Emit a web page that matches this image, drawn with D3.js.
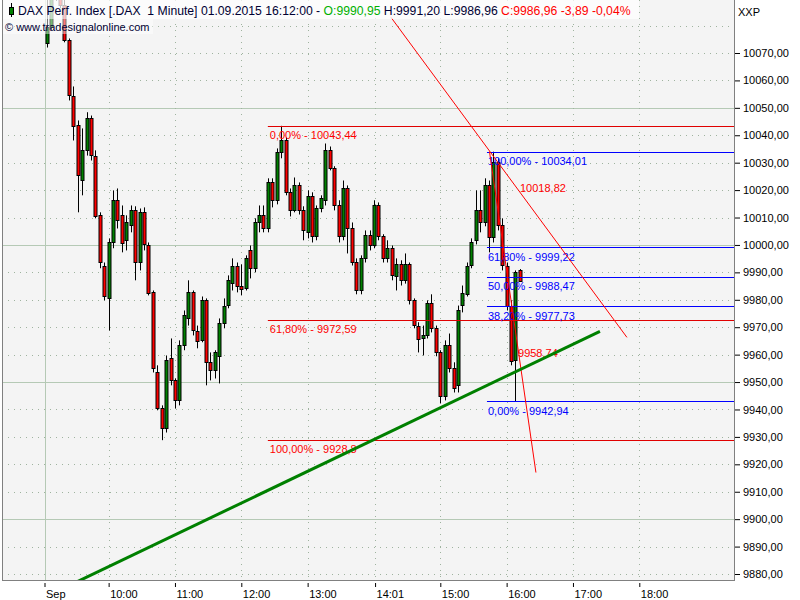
<!DOCTYPE html>
<html><head><meta charset="utf-8">
<script src="https://cdn.jsdelivr.net/npm/d3@7"></script>
<style>body{margin:0;background:#fff}svg{display:block}</style>
</head><body><svg id="c" width="800" height="600"></svg>
<script>
// ---- data (4-minute bars from 09:04) ----
const startMinute = 544, barMinutes = 4;
const open = [10073.5,10079.3,10091.0,10094.0,10087.4,10074.6,10054.5,10043.6,10023.5,10034.5,
10046.2,10032.6,10010.8,9992.5,9980.5,10000.9,10016.3,10010.8,10001.7,10007.1,
10012.6,9993.6,10011.9,10000.1,9982.7,9953.5,9940.4,9933.1,9958.6,9950.6,
9943.3,9963.4,9973.2,9982.7,9968.8,9965.2,9979.8,9957.2,9954.3,9959.7,
9971.7,9977.9,9986.4,9992.5,9985.2,9984.2,9998.0,9991.5,10008.2,10010.8,
10006.0,10022.8,10016.3,10033.8,10038.1,10019.2,10012.6,10021.7,10012.6,10004.6,
10017.7,10003.1,10013.3,10016.3,10034.5,10027.9,10014.4,10003.1,10020.6,10006.0,
9993.6,9983.4,9995.1,10003.5,9999.8,10014.4,10003.1,9995.1,9998.8,9988.5,
9992.9,9987.1,9992.9,9979.8,9970.6,9965.9,9967.0,9978.7,9969.6,9960.8,
9944.8,9963.4,9955.0,9948.8,9977.9,9982.3,9992.5,10001.7,10012.6,10008.2,
10021.7,10002.8,10030.1,10007.1,9992.5,9977.9,9957.9,9990.95];
const high = [10092,10094,10097,10096,10090,10075.3,10057.8,10045.4,10042.5,10048.4,
10047.2,10034.5,10011.9,9993.6,10002.4,10019.9,10020.6,10014.4,10010.8,10014.4,
10014.1,10013.3,10013.7,10000.9,9983.4,9956.1,9941.5,9959.7,9965.9,9951.3,
9965.2,9976.1,9987.1,9983.4,9970.6,9981.2,9980.5,9960.8,9961.6,9973.2,
9980.5,9988.9,9995.1,9993.6,9992.9,9996.2,9999.8,10009.7,10014.4,10014.4,
10024.3,10024.3,10035.2,10043.44,10039.2,10020.6,10024.6,10022.8,10014.1,10019.9,
10019.2,10014.4,10018.1,10037.0,10035.9,10028.7,10016.3,10023.5,10021.7,10008.2,
9995.1,9996.2,10005.3,10005.3,10016.3,10015.5,10003.9,10001.7,9999.8,9995.1,
9994.4,9996.9,9993.6,9980.5,9971.8,9970.6,9979.8,9982.0,9970.6,9961.6,
9965.2,9967.7,9957.2,9977.9,9985.2,9993.6,10002.4,10019.9,10019.9,10024.3,
10023.5,10034.01,10031.6,10009.7,9993.6,9979.8,9990.7,9991.20];
const low = [10072.0,10078.3,10089,10086.3,10073.9,10052.7,10038.1,10011.9,10018.1,10032.6,
10030.8,10009.7,9991.5,9979.8,9968.8,9998.8,10006.0,9997.3,9998.0,10004.6,
9987.1,9990.7,9998.0,9981.6,9953.5,9939.7,9928.8,9931.6,9948.8,9940.4,
9941.5,9961.6,9970.6,9967.0,9962.3,9964.5,9948.8,9950.6,9951.3,9949.5,
9969.6,9976.9,9983.4,9982.7,9981.6,9983.4,9987.8,9990.0,10004.6,10004.6,
10004.6,10013.7,10014.8,10031.6,10018.1,10010.4,10011.9,10011.1,10001.7,10002.4,
10000.9,10001.7,10011.9,10014.4,10027.2,10012.6,10000.9,10001.7,9996.9,9992.5,
9982.0,9982.0,9993.6,9998.0,9998.8,10001.7,9993.6,9993.6,9987.1,9983.4,
9985.2,9985.9,9978.3,9969.6,9960.8,9959.7,9965.9,9968.1,9959.4,9942.2,
9943.3,9953.5,9946.2,9946.2,9975.4,9981.2,9991.5,10000.2,10004.6,10006.8,
9997.3,10000.9,10005.3,9990.7,9976.1,9956.1,9942.94,9986.96];
const close = [10079.3,10091.0,10094.0,10087.4,10074.6,10054.5,10043.6,10025.4,10034.5,10046.2,
10032.6,10010.8,9993.6,9981.6,10000.9,10016.3,10008.9,10000.6,10008.2,10012.6,
9993.6,10011.9,10000.1,9982.7,9955.0,9940.4,9933.1,9957.9,9950.6,9943.3,
9963.4,9974.3,9982.7,9968.8,9965.2,9979.8,9957.2,9954.3,9960.8,9971.7,
9977.9,9987.1,9992.5,9985.2,9984.2,9995.1,9991.5,10008.2,10010.8,10006.0,
10022.8,10016.3,10033.8,10038.1,10019.2,10012.6,10021.7,10012.6,10005.3,10017.7,
10003.1,10013.3,10017.0,10034.5,10027.9,10014.4,10003.1,10020.6,10006.0,9993.6,
9983.4,9995.1,10003.5,9999.8,10014.4,10003.1,9995.1,9998.8,9988.9,9992.9,
9987.1,9992.9,9979.8,9970.6,9965.9,9967.0,9978.7,9969.6,9960.8,9944.8,
9963.4,9955.0,9947.7,9976.1,9982.3,9992.5,10000.9,10012.6,10008.2,10021.7,
10002.8,10030.1,10007.1,9992.5,9977.9,9957.9,9990.0,9986.96];

const yTicks = [9880,9890,9900,9910,9920,9930,9940,9950,9960,9970,9980,9990,10000,10010,10020,10030,10040,10050,10060,10070];
const gridLevels = [9870,9880,9890,9900,9910,9920,9930,9940,9950,9960,9970,9980,9990,10000,10010,10020,10030,10040,10050,10060,10070,10080];
const xTickMinutes = [542,600,660,720,780,841,900,960,1020,1080];
const xTickLabels = ["Sep","10:00","11:00","12:00","13:00","14:01","15:00","16:00","17:00","18:00"];

const fibLeftStart = 744;
const fibLeftLevels = [10043.44, 9972.59, 9928.8];
const fibLeftLabels = ["0,00% - 10043,44","61,80% - 9972,59","100,00% - 9928,8"];
const fibRightStart = 942.2;
const fibRightLevels = [10034.01, 9999.22, 9988.47, 9977.73, 9942.94];
const fibRightLabels = ["100,00% - 10034,01","61,80% - 9999,22","50,00% - 9988,47","38,20% - 9977,73","0,00% - 9942,94"];

const redLines = [[855.4,10083.0,1068.8,9966.3],[944.5,10034.0,986.5,9917.0]];
const redLineLabels = [{m:972.1,v:10018.82,t:"10018,82"},{m:970.3,v:9958.74,t:"9958,74"}];
const greenLine = [537.9,9870.7,1044.4,9968.5];

// ---- drawing ----
const W=800,H=600;
const plot={l:2,t:0,r:735,b:581};
const x=d3.scaleLinear().domain([540,1080]).range([42.3,639.3]);
const y=d3.scaleLinear().domain([9880,10070]).range([574,53]);
const svg=d3.select('#c');
const FONT='"Liberation Sans", Arial, sans-serif';

svg.append('rect').attr('width',W).attr('height',H).attr('fill','#fff');
svg.append('defs').append('clipPath').attr('id','clip').append('rect')
  .attr('x',plot.l).attr('y',plot.t).attr('width',plot.r-plot.l).attr('height',plot.b-plot.t);
svg.append('rect').attr('x',plot.l).attr('y',plot.t).attr('width',plot.r-plot.l).attr('height',plot.b-plot.t).attr('fill','#f4f4f4');

const g=svg.append('g').attr('clip-path','url(#clip)');
// horizontal grid
g.selectAll('.hg').data(gridLevels).join('line')
  .attr('x1',plot.l).attr('x2',plot.r)
  .attr('y1',d=>Math.round(y(d))+0.5).attr('y2',d=>Math.round(y(d))+0.5)
  .attr('stroke',d=>d%50===0?'#b5c9b5':'#9fb39f')
  .attr('stroke-dasharray',d=>d%50===0?null:'1,5')
  .attr('stroke-width',1);
// vertical grid
g.selectAll('.vg').data(xTickMinutes).join('line')
  .attr('y1',plot.t).attr('y2',plot.b)
  .attr('x1',d=>Math.round(x(d))+0.5).attr('x2',d=>Math.round(x(d))+0.5)
  .attr('stroke',(d,i)=>i===0?'#b5c9b5':'#9fb39f')
  .attr('stroke-dasharray',(d,i)=>i===0?null:'1,5');

// candles
const bars=open.map((o,i)=>({m:startMinute+i*barMinutes,o,h:high[i],l:low[i],c:close[i]}));
const cg=g.append('g');
bars.forEach(b=>{
  const cx=Math.round(x(b.m));
  cg.append('line').attr('x1',cx+0.5).attr('x2',cx+0.5).attr('y1',y(b.h)).attr('y2',y(b.l)).attr('stroke','#000').attr('stroke-width',1);
  const y1=Math.min(y(b.o),y(b.c)), y2=Math.max(y(b.o),y(b.c));
  cg.append('rect').attr('x',cx-1).attr('width',3).attr('y',Math.round(y1)+0.5).attr('height',Math.max(1,Math.round(y2-y1)))
    .attr('fill',b.c>=b.o?'#008000':'#ff0000').attr('stroke','#000').attr('stroke-width',1);
});

// fib left (red)
g.selectAll('.fl').data(fibLeftLevels).join('line')
  .attr('x1',x(fibLeftStart)).attr('x2',plot.r)
  .attr('y1',d=>Math.round(y(d))+0.5).attr('y2',d=>Math.round(y(d))+0.5)
  .attr('stroke','#e00000').attr('stroke-width',1);
g.selectAll('.flt').data(fibLeftLevels).join('text')
  .attr('x',x(fibLeftStart)+2).attr('y',d=>y(d)+13)
  .attr('font-family',FONT).attr('font-size',11).attr('fill','#ff0000')
  .text((d,i)=>fibLeftLabels[i]);
// fib right (blue)
g.selectAll('.fr').data(fibRightLevels).join('line')
  .attr('x1',x(fibRightStart)).attr('x2',plot.r)
  .attr('y1',d=>Math.round(y(d))+0.5).attr('y2',d=>Math.round(y(d))+0.5)
  .attr('stroke','#0000ff').attr('stroke-width',1);
g.selectAll('.frt').data(fibRightLevels).join('text')
  .attr('x',x(fibRightStart)+1).attr('y',d=>y(d)+13.5)
  .attr('font-family',FONT).attr('font-size',11).attr('fill','#0000ff')
  .text((d,i)=>fibRightLabels[i]);

// red lines
g.selectAll('.rl').data(redLines).join('line')
  .attr('x1',d=>x(d[0])).attr('y1',d=>y(d[1])).attr('x2',d=>x(d[2])).attr('y2',d=>y(d[3]))
  .attr('stroke','#ff0000').attr('stroke-width',1);
g.selectAll('.rlt').data(redLineLabels).join('text')
  .attr('x',d=>x(d.m)).attr('y',d=>y(d.v)-1)
  .attr('font-family',FONT).attr('font-size',11).attr('fill','#ff0000')
  .text(d=>d.t);
// green trend line
g.append('line').attr('x1',x(greenLine[0])).attr('y1',y(greenLine[1])).attr('x2',x(greenLine[2])).attr('y2',y(greenLine[3]))
  .attr('stroke','#008000').attr('stroke-width',3);

// frame
svg.append('rect').attr('x',plot.l+0.5).attr('y',plot.t-0.5).attr('width',plot.r-plot.l-1).attr('height',plot.b-plot.t)
  .attr('fill','none').attr('stroke','#808080');

// right axis
const ya=svg.append('g').attr('transform',`translate(${plot.r},0)`)
  .call(d3.axisRight(y).tickValues(yTicks).tickSize(5).tickPadding(3).tickFormat(d=>d.toFixed(2).replace('.',',')));
ya.select('.domain').remove();
ya.selectAll('text').attr('font-family',FONT).attr('font-size',11).attr('fill','#000');
ya.selectAll('line').attr('stroke','#000');
svg.append('text').attr('x',738).attr('y',16).attr('font-family',FONT).attr('font-size',11).attr('fill','#000').text('XXP');

// bottom axis
const xa=svg.append('g').attr('transform',`translate(0,${plot.b+2})`)
  .call(d3.axisBottom(x).tickValues(xTickMinutes).tickSize(4).tickPadding(3).tickFormat((d,i)=>xTickLabels[i]));
xa.select('.domain').remove();
xa.selectAll('text').attr('font-family',FONT).attr('font-size',11).attr('fill','#000').attr('text-anchor','start').attr('dx',1);
xa.selectAll('line').attr('stroke','#000');

// header
const hd=svg.append('g');
hd.append('rect').attr('x',plot.l+1).attr('y',0).attr('width',636).attr('height',19).attr('fill','#fff').attr('opacity',0.75);
hd.append('rect').attr('x',plot.l+1).attr('y',19).attr('width',150).attr('height',15).attr('fill','#fff').attr('opacity',0.45);
hd.append('line').attr('x1',11.5).attr('x2',11.5).attr('y1',3).attr('y2',17).attr('stroke','#000');
hd.append('rect').attr('x',9.5).attr('y',7.5).attr('width',4).attr('height',7).attr('fill','#008000').attr('stroke','#000');
const t1=hd.append('text').attr('x',18).attr('y',15).attr('font-family',FONT).attr('font-size',12.2);
t1.append('tspan').attr('fill','#000033').text('DAX Perf. Index [.DAX \u00a01 Minute] 01.09.2015 16:12:00 - ');
t1.append('tspan').attr('fill','#00b000').text('O:9990,95');
t1.append('tspan').attr('fill','#000033').text(' H:9991,20 L:9986,96');
t1.append('tspan').attr('fill','#ff0000').text(' C:9986,96 -3,89 -0,04%');
hd.append('text').attr('x',5).attr('y',31).attr('font-family',FONT).attr('font-size',11).attr('fill','#000033')
  .text('\u00a9 www.tradesignalonline.com');
</script></body></html>
